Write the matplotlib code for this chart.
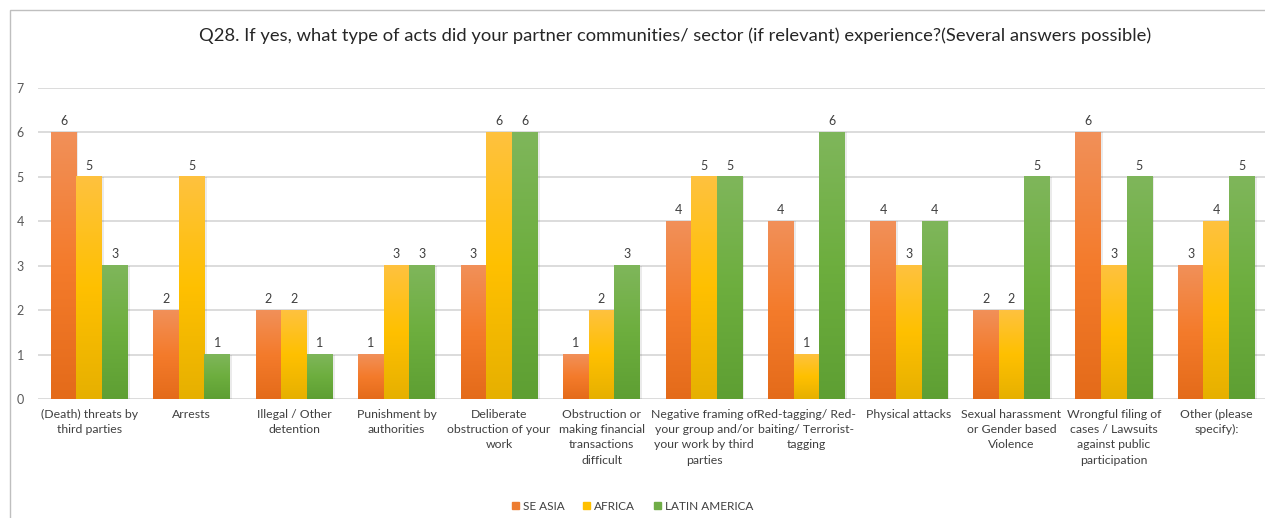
import numpy as np
import matplotlib
matplotlib.use("Agg")
import matplotlib.pyplot as plt
from matplotlib.colors import LinearSegmentedColormap
from matplotlib.patches import Rectangle

plt.rcParams['font.family'] = ['Lato', 'DejaVu Sans']

categories = [
    "(Death) threats by\nthird parties",
    "Arrests",
    "Illegal / Other\ndetention",
    "Punishment by\nauthorities",
    "Deliberate\nobstruction of your\nwork",
    "Obstruction or\nmaking financial\ntransactions\ndifficult",
    "Negative framing of\nyour group and/or\nyour work by third\nparties",
    "Red-tagging/ Red-\nbaiting/ Terrorist-\ntagging",
    "Physical attacks",
    "Sexual harassment\nor Gender based\nViolence",
    "Wrongful filing of\ncases / Lawsuits\nagainst public\nparticipation",
    "Other (please\nspecify):",
]
series_names = ["SE ASIA", "AFRICA", "LATIN AMERICA"]
se_asia = [6, 2, 2, 1, 3, 1, 4, 4, 4, 2, 6, 3]
africa = [5, 5, 2, 3, 6, 2, 5, 1, 3, 2, 3, 4]
latin_america = [3, 1, 1, 3, 6, 3, 5, 6, 4, 5, 5, 5]
title = ("Q28. If yes, what type of acts did your partner communities/ sector "
         "(if relevant) experience?(Several answers possible)")

series = [se_asia, africa, latin_america]
# top, middle, bottom shades of each gradient fill
gradients = [
    ["#F19059", "#F47B2B", "#E46B1A"],
    ["#FEC23F", "#FFC000", "#E6B000"],
    ["#7FB65B", "#6DAE3E", "#5E9F33"],
]
solid = ["#ED7D31", "#FFC000", "#70AD47"]

fig = plt.figure(figsize=(12.65, 5.18), dpi=100)
ax = fig.add_axes([0.030, 0.2297, 0.972, 0.6003])

x = np.arange(len(categories))
w = 0.25
for i, (vals, grad) in enumerate(zip(series, gradients)):
    bars = ax.bar(x + (i - 1) * w, vals, width=w, color="none", zorder=3)
    cmap = LinearSegmentedColormap.from_list(f"g{i}", grad[::-1])
    grad_img = np.linspace(0, 1, 256).reshape(-1, 1)
    for b, v in zip(bars, vals):
        x0, y0 = b.get_x(), b.get_y()
        ax.imshow(grad_img, cmap=cmap, origin="lower", aspect="auto",
                  extent=(x0, x0 + b.get_width(), y0, y0 + b.get_height()),
                  zorder=3, interpolation="bilinear")
        # soft shadow on the right edge
        ax.add_patch(Rectangle((x0 + b.get_width(), y0), 0.02, b.get_height(),
                               color="#000000", alpha=0.08, lw=0, zorder=2))
        ax.text(x0 + b.get_width() / 2, v + 0.12, str(v), ha="center",
                va="bottom", fontsize=9, color="#404040", zorder=4)

ax.set_xlim(-0.5, len(categories) - 0.5)
ax.set_ylim(0, 7)
ax.set_yticks(range(0, 8))
ax.yaxis.grid(True, color="#D9D9D9", linewidth=1.3, zorder=0)
ax.set_axisbelow(True)
for s in ax.spines.values():
    s.set_visible(False)
ax.tick_params(axis="y", length=0, labelsize=9, labelcolor="#595959", pad=10)
ax.tick_params(axis="x", length=0, labelsize=8.8, labelcolor="#404040", pad=7)
ax.set_xticks(x)
ax.set_xticklabels(categories, linespacing=1.48)

fig.text(0.534, 0.932, title, ha="center", va="center", fontsize=13.2,
         color="#262626")

handles = [Rectangle((0, 0), 1, 1, color=c) for c in solid]
fig.legend(handles, series_names, loc="center", bbox_to_anchor=(0.5, 0.023),
           ncol=3, frameon=False, fontsize=8.5, handlelength=0.6,
           handleheight=0.6, handletextpad=0.3, columnspacing=1.6,
           labelcolor="#404040")

# chart frame
fig.add_artist(Rectangle((10 / 1265, -0.1), 1.1, 1 - 10 / 518 + 0.1,
                         transform=fig.transFigure, fill=False,
                         edgecolor="#BFBFBF", linewidth=1.0))

fig.savefig("out.png", dpi=100)
